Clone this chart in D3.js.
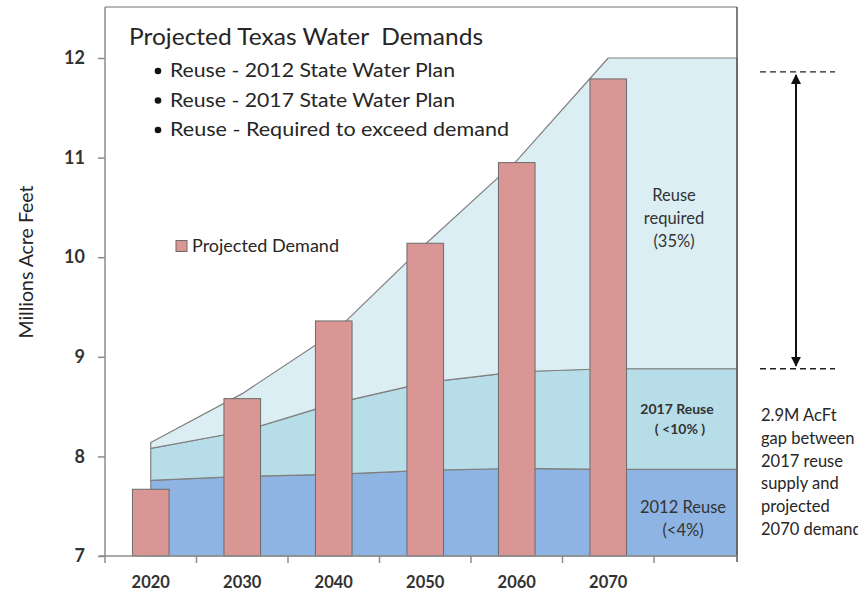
<!DOCTYPE html>
<html>
<head>
<meta charset="utf-8">
<script src="https://cdn.jsdelivr.net/npm/d3@7"></script>
<style>
  html, body { margin: 0; padding: 0; background: #fff; }
  svg { display: block; font-family: Lato, "Open Sans", sans-serif; }
</style>
</head>
<body>
<svg id="chart" width="858" height="594"></svg>
<script>
// ---------- data ----------
const years = ["2020", "2030", "2040", "2050", "2060", "2070"];
const demand = [7.67, 8.58, 9.36, 10.14, 10.95, 11.79];
const reuse2012 = [7.76, 7.80, 7.82, 7.86, 7.88, 7.87];
const reuse2017 = [8.08, 8.25, 8.53, 8.74, 8.85, 8.88];
const reuseRequired = [8.14, 8.63, 9.24, 10.13, 10.97, 12.0];
const yTicks = [7, 8, 9, 10, 11, 12];
const xCategories = [...years, ""];
const gapTop = 11.86;
const gapBottom = 8.88;
const titleText = "Projected Texas Water\u00A0 Demands";
const bulletLines = ["Reuse - 2012 State Water Plan", "Reuse - 2017 State Water Plan", "Reuse - Required to exceed demand"];
const legendLabel = "Projected Demand";
const requiredLabel = ["Reuse", "required", "(35%)"];
const label2017 = ["2017 Reuse", "( <10% )"];
const label2012 = ["2012 Reuse", "(<4%)"];
const gapNote = ["2.9M AcFt", "gap between", "2017 reuse", "supply and", "projected", "2070 demand"];
const yTitle = "Millions Acre Feet";

// ---------- layout ----------
const plotLeft = 105, plotRight = 737, plotTop = 7, plotBottom = 556;
const step = 91.5;
const colors = {
  r2012: "rgb(141,180,226)",
  r2017: "rgb(183,221,232)",
  req: "rgb(219,238,244)",
  bar: "rgb(217,150,148)",
  barStroke: "#6b6b6b",
  areaStroke: "#808080",
  text: "#262626"
};

const svg = d3.select("#chart");
const y = d3.scaleLinear().domain([7, 12]).range([plotBottom, 58]);
const x = d3.scaleBand().domain(xCategories).range([plotLeft, plotLeft + step * xCategories.length]).padding(0);
const cx = d => x(d) + x.bandwidth() / 2;

function pts(vals) {
  const p = years.map((yr, i) => [cx(yr), vals[i]]);
  p.push([plotRight, vals[vals.length - 1]]);
  return p;
}
function bandPts(lower, upper) {
  const lo = lower ? pts(lower) : pts(years.map(() => 7));
  const up = pts(upper);
  return up.map((p, i) => ({ x: p[0], y0: lo[i][1], y1: p[1] }));
}
const area = d3.area().x(d => d.x).y0(d => y(d.y0)).y1(d => y(d.y1));

const layers = [
  { d: bandPts(null, reuse2012), fill: colors.r2012 },
  { d: bandPts(reuse2012, reuse2017), fill: colors.r2017 },
  { d: bandPts(reuse2017, reuseRequired), fill: colors.req }
];
svg.append("g").selectAll("path").data(layers).join("path")
  .attr("d", l => area(l.d) + "Z")
  .attr("fill", l => l.fill)
  .attr("stroke", colors.areaStroke)
  .attr("stroke-width", 1.2)
  .attr("stroke-linejoin", "round");

// frame
const frame = svg.append("g");
frame.append("line").attr("x1", plotLeft).attr("x2", plotRight).attr("y1", plotTop).attr("y2", plotTop)
  .attr("stroke", "#a0a0a0").attr("stroke-width", 1.5);
frame.append("line").attr("x1", plotLeft).attr("x2", plotLeft).attr("y1", plotTop).attr("y2", plotBottom)
  .attr("stroke", "#8c8c8c").attr("stroke-width", 1.5);
frame.append("line").attr("x1", plotRight).attr("x2", plotRight).attr("y1", plotTop).attr("y2", plotBottom + 6)
  .attr("stroke", "#555").attr("stroke-width", 1.5);

// bars
const barW = x.bandwidth() * 0.4;
svg.append("g").selectAll("rect").data(years).join("rect")
  .attr("x", d => cx(d) - barW / 2)
  .attr("width", barW)
  .attr("y", (d, i) => y(demand[i]))
  .attr("height", (d, i) => plotBottom - y(demand[i]))
  .attr("fill", colors.bar)
  .attr("stroke", colors.barStroke)
  .attr("stroke-width", 1);

// x axis
const xa = svg.append("g");
xa.append("line").attr("x1", plotLeft - 6).attr("x2", plotRight).attr("y1", plotBottom).attr("y2", plotBottom)
  .attr("stroke", "#8c8c8c").attr("stroke-width", 1.5);
xa.selectAll("line.tick").data(xCategories.filter(c => x(c) < plotRight)).join("line")
  .attr("class", "tick")
  .attr("x1", d => x(d)).attr("x2", d => x(d))
  .attr("y1", plotBottom).attr("y2", plotBottom + 7)
  .attr("stroke", "#8c8c8c").attr("stroke-width", 1.5);
xa.selectAll("text").data(years).join("text")
  .attr("x", d => cx(d)).attr("y", 588)
  .attr("text-anchor", "middle")
  .attr("font-size", 16.5).attr("font-weight", 700)
  .attr("fill", "#333")
  .text(d => d);

// y axis
const ya = svg.append("g").attr("transform", `translate(${plotLeft},0)`)
  .call(d3.axisLeft(y).tickValues(yTicks).tickSize(7).tickPadding(13).tickFormat(d3.format("d")));
ya.select(".domain").remove();
ya.selectAll(".tick line").attr("stroke", "#8c8c8c").attr("stroke-width", 1.5);
ya.selectAll(".tick text").attr("font-size", 18).attr("font-weight", 700).attr("fill", "#333")
  .attr("font-family", "Lato, sans-serif");

svg.append("text")
  .attr("transform", `translate(33,${262}) rotate(-90)`)
  .attr("text-anchor", "middle")
  .attr("font-size", 19.5).attr("fill", colors.text)
  .text(yTitle);

// title + bullets
svg.append("text").attr("x", 129).attr("y", 45).attr("font-size", 24).attr("fill", colors.text)
  .attr("textLength", 354).attr("lengthAdjust", "spacingAndGlyphs")
  .text(titleText);
const bulletWidths = [285, 285, 339];
const bl = svg.append("g");
bulletLines.forEach((t, i) => {
  const by = 77 + i * 29.5;
  bl.append("circle").attr("cx", 158).attr("cy", by - 6).attr("r", 3.3).attr("fill", "#111");
  bl.append("text").attr("x", 170).attr("y", by).attr("font-size", 19.5).attr("fill", colors.text)
    .attr("textLength", bulletWidths[i]).attr("lengthAdjust", "spacingAndGlyphs").text(t);
});

// legend
svg.append("rect").attr("x", 176).attr("y", 240.5).attr("width", 11).attr("height", 11)
  .attr("fill", colors.bar).attr("stroke", colors.barStroke).attr("stroke-width", 1);
svg.append("text").attr("x", 192).attr("y", 252).attr("font-size", 18).attr("fill", colors.text).text(legendLabel);

// in-area labels
const lab = svg.append("g").attr("text-anchor", "middle").attr("fill", "#333");
requiredLabel.forEach((t, i) => {
  lab.append("text").attr("x", 674).attr("y", 201 + i * 23).attr("font-size", 16.5).text(t);
});
lab.append("text").attr("x", 677).attr("y", 414).attr("font-size", 14).attr("font-weight", 700).text(label2017[0]);
lab.append("text").attr("x", 680).attr("y", 434).attr("font-size", 14).attr("font-weight", 700).text(label2017[1]);
label2012.forEach((t, i) => {
  lab.append("text").attr("x", 683).attr("y", 513 + i * 23).attr("font-size", 16.5).text(t);
});

// gap annotation
const defs = svg.append("defs");
["start", "end"].forEach(k => {
  defs.append("marker").attr("id", "arr-" + k)
    .attr("viewBox", "0 0 10 10").attr("refX", 9).attr("refY", 5)
    .attr("markerWidth", 5).attr("markerHeight", 5)
    .attr("orient", k === "start" ? "auto-start-reverse" : "auto")
    .attr("markerUnits", "strokeWidth")
    .append("path").attr("d", "M0,0 L10,5 L0,10 Z").attr("fill", "#111");
});
const gx = 796;
[gapTop, gapBottom].forEach(v => {
  svg.append("line").attr("x1", 760).attr("x2", 835).attr("y1", y(v)).attr("y2", y(v))
    .attr("stroke", "#222").attr("stroke-width", 1.3).attr("stroke-dasharray", "6,4");
});
svg.append("line").attr("x1", gx).attr("x2", gx).attr("y1", y(gapTop) + 3).attr("y2", y(gapBottom) - 3)
  .attr("stroke", "#111").attr("stroke-width", 2)
  .attr("marker-start", "url(#arr-start)").attr("marker-end", "url(#arr-end)");
gapNote.forEach((t, i) => {
  svg.append("text").attr("x", 761).attr("y", 421 + i * 22.8).attr("font-size", 16.5).attr("fill", colors.text).text(t);
});
</script>
</body>
</html>
